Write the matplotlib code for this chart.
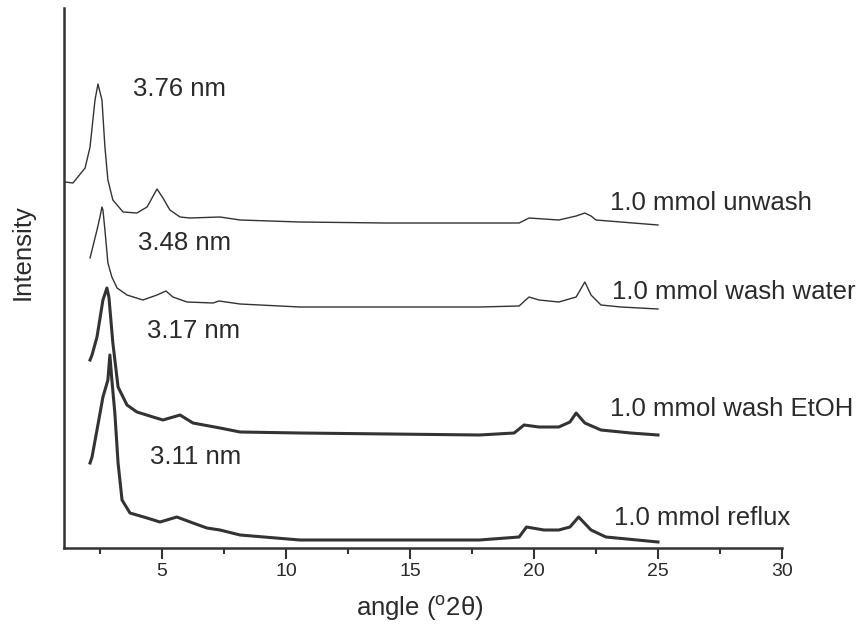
import matplotlib
matplotlib.use("Agg")
import matplotlib.pyplot as plt
from matplotlib.ticker import MultipleLocator

plt.rcParams['font.family'] = ['Liberation Sans', 'DejaVu Sans']
plt.rcParams['mathtext.fontset'] = 'custom'
plt.rcParams['mathtext.rm'] = 'Liberation Sans'

# ---- data (intensities in arbitrary offset units) ----
x_unwash = [1.09, 1.41, 1.77, 1.90, 2.10, 2.30, 2.42, 2.58, 2.70, 2.82, 3.02, 3.43, 3.99, 4.40,
            4.80, 5.04, 5.32, 5.73, 6.13, 7.34, 8.15, 10.56, 14.0, 17.8, 19.4, 19.8, 20.4, 21.0,
            21.7, 22.05, 22.3, 22.5, 23.5, 25.0]
y_unwash = [366, 365, 376, 380, 401, 448, 464, 448, 401, 368, 348, 336, 335, 341,
            359, 350, 338, 331, 330, 331, 328, 326, 325, 325, 325, 330, 329, 328,
            332, 335, 332, 328, 326, 323]

x_water = [2.10, 2.38, 2.50, 2.58, 2.62, 2.70, 2.82, 2.98, 3.19, 3.59, 4.23, 4.80, 5.16, 5.44,
           6.01, 7.06, 7.30, 8.15, 10.56, 17.8, 19.4, 19.8, 20.2, 21.0, 21.7, 22.05, 22.3,
           22.7, 23.5, 25.0]
y_water = [290, 318, 331, 341, 338, 318, 285, 271, 260, 253, 248, 253, 257, 251,
           246, 245, 247, 244, 241, 241, 242, 251, 248, 246, 251, 266, 253,
           243, 241, 239]

x_etoh = [2.10, 2.18, 2.38, 2.62, 2.78, 2.86, 3.02, 3.23, 3.59, 3.99, 4.64, 5.04, 5.73, 6.25,
          7.34, 8.15, 10.56, 17.8, 19.2, 19.6, 20.2, 21.0, 21.45, 21.7, 22.05, 22.7, 23.9, 25.0]
y_etoh = [188, 193, 211, 248, 260, 251, 205, 161, 143, 136, 131, 128, 133, 125,
          120, 116, 115, 113, 115, 123, 121, 121, 126, 135, 125, 118, 115, 113]

x_reflux = [2.10, 2.18, 2.38, 2.62, 2.82, 2.90, 2.98, 3.10, 3.23, 3.39, 3.71, 4.40, 4.92, 5.60,
            6.25, 6.81, 7.34, 8.15, 10.56, 17.8, 19.4, 19.7, 20.4, 21.0, 21.45, 21.8, 22.3,
            22.9, 25.0]
y_reflux = [85, 91, 118, 151, 168, 193, 168, 135, 85, 48, 35, 30, 26, 31,
            25, 20, 18, 13, 8, 8, 11, 21, 18, 18, 21, 31, 18,
            11, 6]

series_names = ["1.0 mmol unwash", "1.0 mmol wash water", "1.0 mmol wash EtOH", "1.0 mmol reflux"]
spacing_labels = ["3.76 nm", "3.48 nm", "3.17 nm", "3.11 nm"]
x_ticks = [5, 10, 15, 20, 25, 30]

ink = '#333333'

fig = plt.figure(figsize=(8.66, 6.28), dpi=100)
ax = fig.add_axes([64/866, 1 - 548/628, (782 - 64)/866, (548 - 8)/628])

ax.plot(x_unwash, y_unwash, color=ink, lw=1.0)
ax.plot(x_water, y_water, color=ink, lw=1.0)
ax.plot(x_etoh, y_etoh, color=ink, lw=2.2)
ax.plot(x_reflux, y_reflux, color=ink, lw=2.2)

ax.set_xlim(1.05, 30)
ax.set_ylim(0, 540)

for s in ['top', 'right']:
    ax.spines[s].set_visible(False)
for s in ['left', 'bottom']:
    ax.spines[s].set_linewidth(1.8)
    ax.spines[s].set_color(ink)

ax.set_xticks(x_ticks)
ax.xaxis.set_minor_locator(MultipleLocator(2.5))
ax.tick_params(axis='x', which='major', length=8, width=1.5, color=ink, pad=3,
               labelsize=14, labelcolor='#2a2a2a')
ax.tick_params(axis='x', which='minor', length=4.5, width=1.5, color=ink)
ax.set_yticks([])

fs = 18.5
# spacing labels
sp_pos = [(3.83, 459), (4.03, 305), (4.40, 217), (4.52, 91)]
for (tx, ty), t in zip(sp_pos, spacing_labels):
    ax.text(tx, ty, t, fontsize=fs, color='#2a2a2a', ha='left', va='center')

# series labels
nm_pos = [(23.06, 345), (23.15, 256), (23.06, 139), (23.23, 30)]
for (tx, ty), t in zip(nm_pos, series_names):
    ax.text(tx, ty, t, fontsize=fs, color='#2a2a2a', ha='left', va='center', clip_on=False)

fig.text(420/866, 1 - 608/628, r"angle ($^{\mathrm{o}}$2θ)", fontsize=fs, color='#2a2a2a',
         ha='center', va='center')
fig.text(23/866, 1 - 252/628, "Intensity", fontsize=fs, color='#2a2a2a',
         ha='center', va='center', rotation=90)

fig.savefig("out.png", dpi=100)
